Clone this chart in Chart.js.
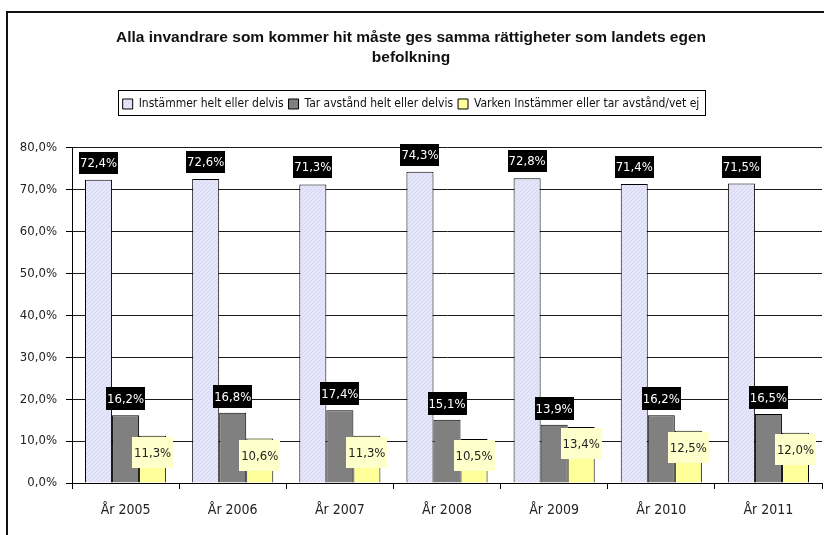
<!DOCTYPE html>
<html>
<head>
<meta charset="utf-8">
<script src="https://cdn.jsdelivr.net/npm/chart.js@4.4.1/dist/chart.umd.min.js"></script>
<style>
  html, body { margin: 0; padding: 0; background: #fff; }
  canvas { display: block; }
</style>
</head>
<body>
<canvas id="c" width="824" height="535"></canvas>
<script>
// ---- data ----
const TITLE_LINES = ["Alla invandrare som kommer hit måste ges samma rättigheter som landets egen", "befolkning"];
const CATEGORIES = ["År 2005", "År 2006", "År 2007", "År 2008", "År 2009", "År 2010", "År 2011"];
const SERIES_NAMES = ["Instämmer helt eller delvis", "Tar avstånd helt eller delvis", "Varken Instämmer eller tar avstånd/vet ej"];
const INSTAMMER = [72.4, 72.6, 71.3, 74.3, 72.8, 71.4, 71.5];
const TAR_AVSTAND = [16.2, 16.8, 17.4, 15.1, 13.9, 16.2, 16.5];
const VARKEN = [11.3, 10.6, 11.3, 10.5, 13.4, 12.5, 12.0];
const Y_MIN = 0, Y_MAX = 80, Y_STEP = 10;

// ---- styles ----
const NARROW = '"Liberation Sans Narrow", "DejaVu Sans Condensed", sans-serif';
const fmt = v => v.toFixed(1).replace('.', ',') + '%';

function hatch() {
  const p = document.createElement('canvas');
  p.width = 4; p.height = 4;
  const g = p.getContext('2d');
  g.fillStyle = '#e6e6fb';
  g.fillRect(0, 0, 4, 4);
  g.fillStyle = '#d6d6f2';
  g.fillRect(0, 3, 1, 1); g.fillRect(1, 2, 1, 1); g.fillRect(2, 1, 1, 1); g.fillRect(3, 0, 1, 1);
  return g.createPattern(p, 'repeat');
}

const LABEL_STYLES = [
  { bg: '#000000', fg: '#ffffff', h: 22, pad: 1, above: true, gap: 6 },
  { bg: '#000000', fg: '#ffffff', h: 23, pad: 1, above: true, gap: 5 },
  { bg: '#ffffcc', fg: '#222222', h: 31, pad: 2, above: false, gap: -1 }
];

const frame = {
  id: 'frame',
  beforeDraw(chart) {
    const ctx = chart.ctx;
    ctx.save();
    ctx.fillStyle = '#ffffff';
    ctx.fillRect(0, 0, chart.width, chart.height);
    ctx.fillStyle = '#111111';
    ctx.fillRect(6, 11, 2, chart.height - 11);
    ctx.fillRect(6, 11, chart.width - 6, 2);
    ctx.restore();
  },
  afterDraw(chart) {
    const lg = chart.legend;
    if (!lg || !lg.legendHitBoxes || !lg.legendHitBoxes.length) return;
    const hb = lg.legendHitBoxes;
    let l = Infinity, r = -Infinity, t = Infinity, b = -Infinity;
    hb.forEach(h => { l = Math.min(l, h.left); r = Math.max(r, h.left + h.width); t = Math.min(t, h.top); b = Math.max(b, h.top + h.height); });
    const ctx = chart.ctx;
    ctx.save();
    ctx.strokeStyle = '#000';
    ctx.lineWidth = 1;
    const x0 = Math.round(l - 5), x1 = Math.round(r + 6);
    const y0 = Math.round(t - 8), y1 = Math.round(b + 5);
    ctx.strokeRect(x0 + 0.5, y0 + 0.5, x1 - x0, y1 - y0);
    ctx.restore();
  }
};

const dataLabels = {
  id: 'dataLabels',
  afterDatasetsDraw(chart) {
    const ctx = chart.ctx;
    ctx.save();
    ctx.font = '13px ' + NARROW;
    ctx.textAlign = 'center';
    ctx.textBaseline = 'middle';
    chart.data.datasets.forEach((ds, i) => {
      const st = LABEL_STYLES[i];
      const meta = chart.getDatasetMeta(i);
      meta.data.forEach((bar, j) => {
        const txt = fmt(ds.data[j]);
        const w = Math.round(ctx.measureText(txt).width + st.pad * 2);
        const x = Math.round(bar.x - w / 2);
        const y = st.above ? Math.round(bar.y - st.gap - st.h) : Math.round(bar.y - st.gap);
        ctx.fillStyle = st.bg;
        ctx.fillRect(x, y, w, st.h);
        ctx.fillStyle = st.fg;
        ctx.fillText(txt, bar.x, y + st.h / 2 + 1);
      });
    });
    ctx.restore();
  }
};

const chart = new Chart(document.getElementById('c'), {
  type: 'bar',
  data: {
    labels: CATEGORIES,
    datasets: [
      { label: SERIES_NAMES[0], data: INSTAMMER, backgroundColor: hatch(), borderColor: '#000', borderWidth: 1 },
      { label: SERIES_NAMES[1], data: TAR_AVSTAND, backgroundColor: '#808080', borderColor: '#000', borderWidth: 1 },
      { label: SERIES_NAMES[2], data: VARKEN, backgroundColor: '#ffff99', borderColor: '#000', borderWidth: 1 }
    ]
  },
  options: {
    responsive: false,
    animation: false,
    devicePixelRatio: 1,
    layout: { padding: { top: 0, left: 0, right: 2, bottom: 0 } },
    datasets: { bar: { barPercentage: 1, categoryPercentage: 0.757 } },
    plugins: {
      tooltip: { enabled: false },
      title: {
        display: true,
        text: TITLE_LINES,
        color: '#111',
        font: { family: '"Liberation Sans", Arial, sans-serif', size: 15.5, weight: 'bold', lineHeight: 1.29 },
        padding: { top: 28, bottom: 25 }
      },
      legend: {
        display: true,
        position: 'top',
        labels: {
          color: '#111',
          font: { family: NARROW, size: 12 },
          boxWidth: 10,
          boxHeight: 10,
          padding: 5
        }
      }
    },
    scales: {
      xTop: {
        type: 'category',
        position: 'top',
        display: true,
        grid: { display: false },
        border: { display: false },
        ticks: { display: false },
        afterFit(s) { s.height = 28; }
      },
      x: {
        position: 'bottom',
        grid: { offset: true, drawOnChartArea: false, color: '#000', tickLength: 6 },
        border: { display: true, color: '#000', width: 1 },
        ticks: { color: '#222', font: { family: NARROW, size: 14 }, padding: 13, maxRotation: 0 },
        afterFit(s) { s.height = 52; }
      },
      y: {
        min: Y_MIN, max: Y_MAX,
        grid: { color: '#1a1a1a', tickLength: 6, tickColor: '#000' },
        border: { display: true, color: '#000', width: 1 },
        ticks: { stepSize: Y_STEP, color: '#222', font: { family: NARROW, size: 13 }, padding: 9, callback: v => fmt(v) },
        afterFit(s) { s.width = 72; }
      }
    }
  },
  plugins: [frame, dataLabels]
});
</script>
</body>
</html>
